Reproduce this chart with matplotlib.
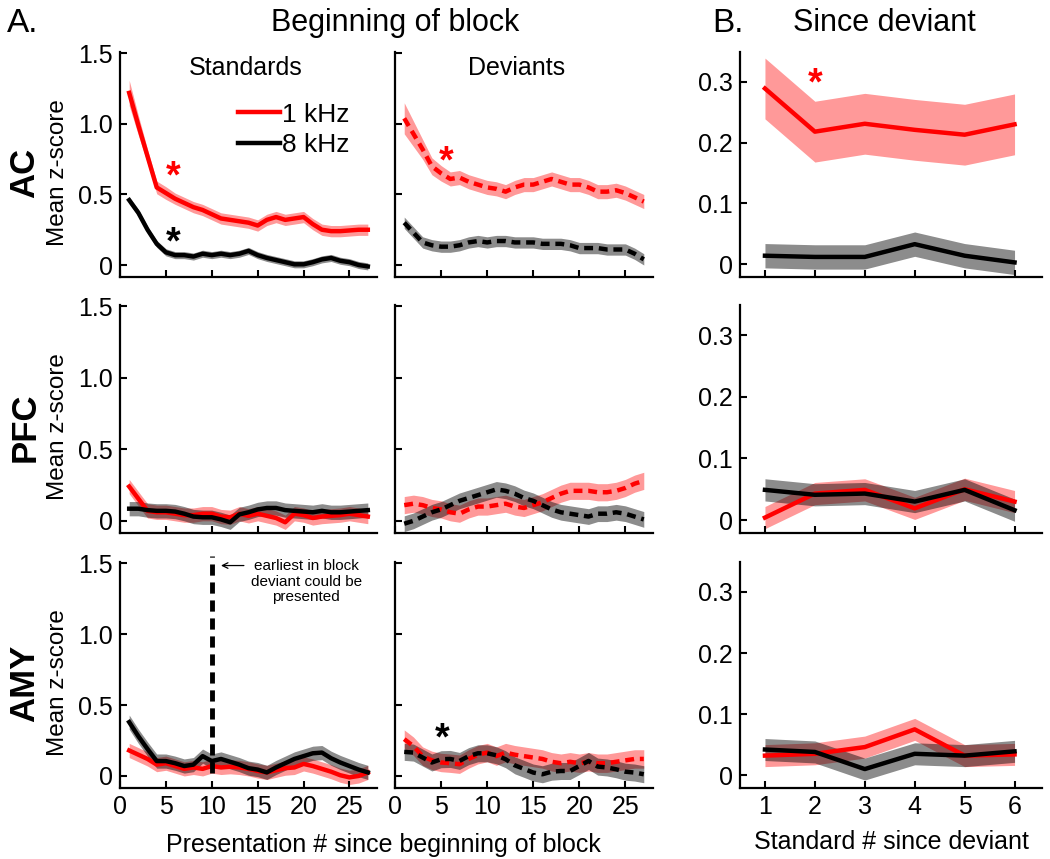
import numpy as np
import matplotlib
matplotlib.use('Agg')
import matplotlib.pyplot as plt

plt.rcParams['font.family'] = ['Liberation Sans', 'DejaVu Sans']

#DATA
# presentation number since beginning of block, standard number since deviant
block_pos = np.arange(1, 28)
since_pos = np.arange(1, 7)

# AC - beginning of block
ac_std_1k = [1.22, 0.99, 0.77, 0.55, 0.51, 0.47, 0.44, 0.41, 0.39, 0.36, 0.33, 0.32, 0.31, 0.30,
             0.28, 0.32, 0.34, 0.32, 0.33, 0.34, 0.29, 0.25, 0.24, 0.24, 0.245, 0.25, 0.25]
ac_std_1k_sem = [0.09, 0.07, 0.05, 0.045, 0.045, 0.04, 0.04, 0.04, 0.04, 0.04, 0.04, 0.04, 0.04, 0.04,
                 0.04, 0.04, 0.04, 0.04, 0.04, 0.04, 0.04, 0.04, 0.04, 0.04, 0.04, 0.04, 0.04]
ac_std_8k = [0.46, 0.37, 0.25, 0.15, 0.09, 0.07, 0.07, 0.06, 0.08, 0.07, 0.08, 0.07, 0.08, 0.10,
             0.07, 0.05, 0.035, 0.02, 0.005, 0.005, 0.02, 0.04, 0.05, 0.03, 0.02, 0.0, -0.01]
ac_dev_1k = [1.04, 0.93, 0.82, 0.70, 0.65, 0.61, 0.62, 0.59, 0.57, 0.55, 0.54, 0.52, 0.55, 0.57,
             0.57, 0.59, 0.61, 0.59, 0.57, 0.57, 0.55, 0.52, 0.52, 0.53, 0.51, 0.48, 0.45]
ac_dev_1k_sem = [0.11, 0.09, 0.07, 0.06, 0.055, 0.05, 0.05, 0.05, 0.05, 0.05, 0.05, 0.05, 0.05, 0.05,
                 0.05, 0.05, 0.05, 0.05, 0.05, 0.05, 0.05, 0.05, 0.05, 0.05, 0.05, 0.05, 0.05]
ac_dev_8k = [0.30, 0.23, 0.16, 0.14, 0.13, 0.13, 0.14, 0.16, 0.17, 0.16, 0.17, 0.17, 0.16, 0.16,
             0.16, 0.15, 0.15, 0.15, 0.14, 0.12, 0.12, 0.12, 0.11, 0.11, 0.11, 0.08, 0.04]

# PFC - beginning of block
pfc_std_1k = [0.24, 0.155, 0.07, 0.06, 0.06, 0.05, 0.04, 0.04, 0.05, 0.05, 0.03, 0.025, 0.05, 0.035,
              0.05, 0.035, 0.02, -0.01, 0.05, 0.04, 0.02, 0.03, 0.035, 0.04, 0.05, 0.04, 0.03]
pfc_std_8k = [0.085, 0.085, 0.075, 0.07, 0.07, 0.065, 0.05, 0.03, 0.025, 0.025, 0.01, -0.01, 0.045, 0.06,
              0.08, 0.09, 0.09, 0.075, 0.07, 0.065, 0.06, 0.07, 0.06, 0.06, 0.065, 0.07, 0.075]
pfc_dev_1k = [0.11, 0.12, 0.11, 0.09, 0.08, 0.06, 0.05, 0.08, 0.10, 0.10, 0.11, 0.12, 0.10, 0.09,
              0.11, 0.13, 0.16, 0.19, 0.21, 0.21, 0.21, 0.20, 0.20, 0.21, 0.23, 0.26, 0.28]
pfc_dev_8k = [-0.02, 0.00, 0.03, 0.06, 0.08, 0.11, 0.14, 0.16, 0.18, 0.20, 0.22, 0.21, 0.19, 0.16,
              0.14, 0.11, 0.08, 0.06, 0.05, 0.04, 0.03, 0.05, 0.05, 0.06, 0.05, 0.03, 0.01]

# AMY - beginning of block
amy_std_1k = [0.18, 0.15, 0.12, 0.08, 0.09, 0.07, 0.05, 0.06, 0.05, 0.07, 0.06, 0.065, 0.06, 0.05,
              0.035, 0.025, 0.04, 0.055, 0.06, 0.085, 0.07, 0.05, 0.03, 0.005, -0.01, 0.0, 0.025]
amy_std_8k = [0.38, 0.28, 0.19, 0.105, 0.105, 0.09, 0.07, 0.08, 0.14, 0.105, 0.12, 0.10, 0.08, 0.055,
              0.045, 0.025, 0.06, 0.09, 0.12, 0.14, 0.16, 0.165, 0.125, 0.095, 0.07, 0.045, 0.025]
amy_dev_1k = [0.26, 0.21, 0.14, 0.11, 0.095, 0.09, 0.083, 0.12, 0.15, 0.165, 0.14, 0.165, 0.15, 0.14,
              0.13, 0.12, 0.10, 0.09, 0.10, 0.09, 0.10, 0.09, 0.09, 0.10, 0.11, 0.12, 0.12]
amy_dev_8k = [0.17, 0.165, 0.13, 0.095, 0.118, 0.12, 0.106, 0.14, 0.16, 0.16, 0.146, 0.118, 0.075, 0.05,
              0.024, 0.012, 0.03, 0.035, 0.035, 0.07, 0.106, 0.066, 0.06, 0.047, 0.03, 0.024, 0.012]

# since deviant
ac_since_1k = [0.289, 0.218, 0.231, 0.221, 0.213, 0.230]
ac_since_8k = [0.014, 0.012, 0.012, 0.033, 0.014, 0.003]
pfc_since_1k = [0.004, 0.043, 0.049, 0.019, 0.050, 0.030]
pfc_since_8k = [0.049, 0.041, 0.043, 0.030, 0.049, 0.016]
amy_since_1k = [0.032, 0.035, 0.046, 0.075, 0.032, 0.034]
amy_since_8k = [0.042, 0.038, 0.010, 0.035, 0.032, 0.039]

# SEM (approx band half widths)
sem_ac_std_8k = 0.025
sem_ac_dev_8k = 0.04
sem_pfc = 0.05
sem_amy_std = 0.05
sem_amy_dev = 0.065
sem_ac_since_1k = 0.05
sem_ac_since_8k = 0.02
sem_since = 0.018

RED = '#ff0000'
BLK = '#000000'
TICK_FS = 18

#FIGURE
fig = plt.figure(figsize=(10.5, 8.59), dpi=100)


def px_axes(l, r, t, b):
    return fig.add_axes([l / 1050, 1 - b / 859, (r - l) / 1050, (b - t) / 859])


def style(ax):
    for s in ['top', 'right']:
        ax.spines[s].set_visible(False)
    for s in ['left', 'bottom']:
        ax.spines[s].set_linewidth(1.6)
    ax.tick_params(direction='in', length=5, width=1.5, labelsize=TICK_FS, pad=5)


def band(ax, x, y, sem, color, alpha):
    y = np.asarray(y)
    sem = np.asarray(sem)
    ax.fill_between(x, y - sem, y + sem, color=color, alpha=alpha, linewidth=0)


def line(ax, x, y, color, dashed, label=None):
    if dashed:
        return ax.plot(x, y, color=color, lw=3.2, dashes=(2, 1.3), label=label)[0]
    return ax.plot(x, y, color=color, lw=3.2, label=label)[0]


col_l = [120, 395, 740]
col_r = [377, 653, 1042]
row_t = [52, 305, 562]
row_b = [277, 533, 788]

block_rows = [
    (ac_std_1k, ac_std_1k_sem, ac_std_8k, sem_ac_std_8k, ac_dev_1k, ac_dev_1k_sem, ac_dev_8k, sem_ac_dev_8k),
    (pfc_std_1k, sem_pfc, pfc_std_8k, sem_pfc, pfc_dev_1k, 0.06, pfc_dev_8k, 0.055),
    (amy_std_1k, sem_amy_std, amy_std_8k, sem_amy_std, amy_dev_1k, sem_amy_dev, amy_dev_8k, 0.06),
]
since_rows = [
    (ac_since_1k, sem_ac_since_1k, ac_since_8k, sem_ac_since_8k),
    (pfc_since_1k, sem_since, pfc_since_8k, sem_since),
    (amy_since_1k, sem_since, amy_since_8k, sem_since),
]
areas = ['AC', 'PFC', 'AMY']

axes = []
for r in range(3):
    s1, s1e, s8, s8e, d1, d1e, d8, d8e = block_rows[r]
    ax_s = px_axes(col_l[0], col_r[0], row_t[r], row_b[r])
    ax_d = px_axes(col_l[1], col_r[1], row_t[r], row_b[r])
    ax_b = px_axes(col_l[2], col_r[2], row_t[r], row_b[r])
    axes.append((ax_s, ax_d, ax_b))

    band(ax_s, block_pos, s1, s1e, RED, 0.4)
    band(ax_s, block_pos, s8, s8e, BLK, 0.45)
    l1 = line(ax_s, block_pos, s1, RED, False, '1 kHz')
    l8 = line(ax_s, block_pos, s8, BLK, False, '8 kHz')

    band(ax_d, block_pos, d1, d1e, RED, 0.4)
    band(ax_d, block_pos, d8, d8e, BLK, 0.45)
    line(ax_d, block_pos, d1, RED, True)
    line(ax_d, block_pos, d8, BLK, True)

    b1, b1e, b8, b8e = since_rows[r]
    band(ax_b, since_pos, b1, b1e, RED, 0.4)
    band(ax_b, since_pos, b8, b8e, BLK, 0.45)
    line(ax_b, since_pos, b1, RED, False)
    line(ax_b, since_pos, b8, BLK, False)

    for ax in (ax_s, ax_d):
        style(ax)
        ax.set_xlim(0, 28)
        ax.set_ylim(-0.085, 1.51)
        ax.set_xticks([0, 5, 10, 15, 20, 25])
        ax.set_yticks([0, 0.5, 1.0, 1.5])
        if r < 2:
            ax.set_xticklabels([])
    ax_s.set_yticklabels(['0', '0.5', '1.0', '1.5'])
    ax_d.set_yticklabels([])

    style(ax_b)
    ax_b.set_xlim(0.5, 6.55)
    ax_b.set_ylim(-0.021, 0.349)
    ax_b.set_xticks(since_pos)
    ax_b.set_yticks([0, 0.1, 0.2, 0.3])
    ax_b.set_yticklabels(['0', '0.1', '0.2', '0.3'])
    if r < 2:
        ax_b.set_xticklabels([])

    yc = (row_t[r] + row_b[r]) / 2 + 8
    fig.text(25 / 1050, 1 - yc / 859, areas[r], rotation=90, fontsize=25, fontweight='bold',
             ha='center', va='center')
    fig.text(58 / 1050, 1 - yc / 859, 'Mean z-score', rotation=90, fontsize=17.5,
             ha='center', va='center')

    if r == 0:
        ax_s.legend(handles=[l1, l8], loc='upper left', bbox_to_anchor=(0.46, 0.775),
                    frameon=False, fontsize=19, handlelength=1.6, handletextpad=0.05,
                    borderpad=0, borderaxespad=0, labelspacing=0.25)
        ax_s.text(0.49, 0.93, 'Standards', transform=ax_s.transAxes, fontsize=18,
                  ha='center', va='center')
        ax_d.text(0.47, 0.93, 'Deviants', transform=ax_d.transAxes, fontsize=18,
                  ha='center', va='center')

# significance stars
ast = dict(fontsize=27, fontweight='bold', ha='center', va='center')
axes[0][0].text(5.8, 0.62, '*', color=RED, **ast)
axes[0][0].text(5.8, 0.15, '*', color=BLK, **ast)
axes[0][1].text(5.5, 0.73, '*', color=RED, **ast)
axes[0][2].text(2.0, 0.295, '*', color=RED, **ast)
axes[2][1].text(5.1, 0.26, '*', color=BLK, **ast)

# earliest deviant marker
ax_amy = axes[2][0]
ax_amy.plot([10, 10], [0.02, 1.55], color=BLK, lw=3.5, dashes=(2.3, 1.4), clip_on=False)
ax_amy.annotate('', xy=(10.7, 1.485), xytext=(13.8, 1.485),
                arrowprops=dict(arrowstyle='->', color=BLK, lw=0.9))
ax_amy.text(20.3, 1.37, 'earliest in block\ndeviant could be\npresented', fontsize=11,
            ha='center', va='center', linespacing=1.15)

# headings and x labels
fig.text(7 / 1050, 1 - 24 / 859, 'A.', fontsize=24, ha='left', va='center')
fig.text(395 / 1050, 1 - 23 / 859, 'Beginning of block', fontsize=22, ha='center', va='center')
fig.text(712 / 1050, 1 - 24 / 859, 'B.', fontsize=24, ha='left', va='center')
fig.text(884 / 1050, 1 - 23 / 859, 'Since deviant', fontsize=22, ha='center', va='center')
fig.text(383 / 1050, 1 - 845 / 859, 'Presentation # since beginning of block', fontsize=18,
         ha='center', va='center')
fig.text(891 / 1050, 1 - 842 / 859, 'Standard # since deviant', fontsize=18,
         ha='center', va='center')

fig.savefig('out.png', dpi=100)
